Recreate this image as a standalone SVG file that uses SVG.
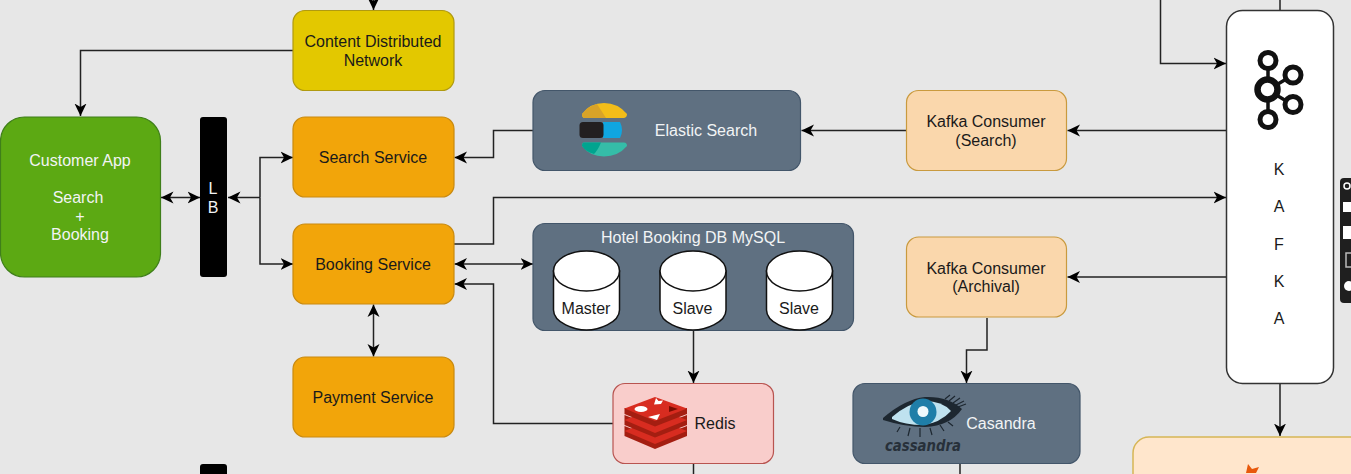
<svg xmlns="http://www.w3.org/2000/svg" width="1351" height="474" viewBox="0 0 1351 474">
<defs>
<marker id="a" viewBox="0 0 13 13" refX="12.500" refY="6.500" markerWidth="13" markerHeight="13" markerUnits="userSpaceOnUse" orient="auto-start-reverse"><path d="M0 0.500L12.500 6.500L0 12.500L3.500 6.500Z" fill="#000"/></marker>
</defs>
<style>
text{font-family:"Liberation Sans",Arial,sans-serif;font-size:16px;text-anchor:middle}
.d{fill:#1a1a1a}.w{fill:#f2f4f5}
.c{fill:none;stroke:#222;stroke-width:1.5}
.ar{marker-end:url(#a)}.ab{marker-start:url(#a);marker-end:url(#a)}
.o{fill:#f2a50a;stroke:#c98a10;stroke-width:1.2}
.s{fill:#5f7081;stroke:#43566a;stroke-width:1.2}
.p{fill:#fad7ac;stroke:#c99a3e;stroke-width:1.2}
.db{fill:#fff;stroke:#111;stroke-width:1.5}
.rs{fill:#a41e11}.rt{fill:#d82c20}
.ln{fill:none;stroke:#1d2730;stroke-width:1.2}
</style>
<rect width="1351" height="474" fill="#e7e7e7"/>
<g id="connectors">
<path class="c ar" d="M373.500 0V10"/>
<path class="c ar" d="M293 50.500H80.500V116"/>
<path class="c ab" d="M161 197.500H200"/>
<path class="c ar" d="M260 197.500H228"/>
<path class="c ar" d="M260 197.500V157.500H293"/>
<path class="c ar" d="M260 197.500V264H293"/>
<path class="c ar" d="M533 130.500H493.500V157.500H454.500"/>
<path class="c ar" d="M906 130.500H801.500"/>
<path class="c ar" d="M1226 130.500H1067.500"/>
<path class="c ar" d="M454 244H493.500V197.500H1226"/>
<path class="c ab" d="M454.500 264H533"/>
<path class="c ab" d="M373.500 304.500V356.500"/>
<path class="c ar" d="M693.500 331V383"/>
<path class="c ar" d="M613 423.500H493.500V284H454.500"/>
<path class="c ar" d="M1226 277H1067.500"/>
<path class="c ar" d="M987 318V350H966.500V383"/>
<path class="c ar" d="M1160.500 0V63.500H1226"/>
<path class="c" d="M1280 0V10"/>
<path class="c ar" d="M1280 384V436"/>
<path class="c" d="M693.500 464V474"/>
<path class="c" d="M960 464V474"/>
</g>
<g id="cdn"><rect x="293" y="10.500" width="161" height="80" rx="12" fill="#e3c800" stroke="#b09a10" stroke-width="1.200"/><text class="d" x="373" y="47">Content Distributed</text><text class="d" x="373" y="65.500">Network</text></g>
<g id="customer-app"><rect x="0.500" y="117" width="160" height="160" rx="24" fill="#5ca913" stroke="#3f7f1a" stroke-width="1.200"/><text class="w" x="80" y="166">Customer App</text><text class="w" x="78" y="203">Search</text><text class="w" x="80" y="222">+</text><text class="w" x="80" y="240">Booking</text></g>
<g id="lb"><rect x="200" y="117" width="27" height="160" rx="3" fill="#000"/><text class="w" x="213" y="194">L</text><text class="w" x="213" y="213">B</text></g>
<g id="search-service"><rect class="o" x="293" y="117" width="161" height="80" rx="12"/><text class="d" x="373" y="163">Search Service</text></g>
<g id="booking-service"><rect class="o" x="293" y="224" width="161" height="80" rx="12"/><text class="d" x="373" y="270">Booking Service</text></g>
<g id="payment-service"><rect class="o" x="293" y="357" width="161" height="80" rx="12"/><text class="d" x="373" y="403">Payment Service</text></g>
<g id="elastic-search"><rect class="s" x="533" y="90.500" width="267.500" height="80" rx="12"/>
<path d="M582 114Q590 103 604 103Q618 103 627 114Q627 117.500 624 118H584Q582 117.500 582 114Z" fill="#f3bd19"/>
<path d="M582 114Q588 106 597 104L606 118H584Q582 117.500 582 114Z" fill="#d9a328"/>
<path d="M603 122H620Q624 130 620 138H603Z" fill="#10a6e0"/>
<rect x="579.500" y="122" width="24" height="16" rx="3.500" fill="#231f20"/>
<path d="M582 146Q582 142.500 584 142.500H624Q627 142.500 627 146Q618 156.500 604 156.500Q590 156.500 582 146Z" fill="#35bda8"/>
<path d="M582 146Q582 142.500 584 142.500H601Q598 150 594 154Q586 152 582 146Z" fill="#00a48f"/>
<text class="w" x="706" y="136">Elastic Search</text></g>
<g id="hotel-db"><rect class="s" x="533" y="223.500" width="320.500" height="107" rx="12"/><text class="w" x="693" y="243">Hotel Booking DB MySQL</text>
<g id="master"><path class="db" d="M553.500 271V310C553.500 323 575 330 586.500 330C598 330 619.500 323 619.500 310V271Z"/><ellipse class="db" cx="586.500" cy="271" rx="33" ry="20"/><text class="d" x="586" y="314">Master</text></g>
<g id="slave-1"><path class="db" d="M660 271V310C660 323 681.500 330 693 330C704.500 330 726 323 726 310V271Z"/><ellipse class="db" cx="693" cy="271" rx="33" ry="20"/><text class="d" x="692.500" y="314">Slave</text></g>
<g id="slave-2"><path class="db" d="M766.500 271V310C766.500 323 788 330 799.500 330C811 330 832.500 323 832.500 310V271Z"/><ellipse class="db" cx="799.500" cy="271" rx="33" ry="20"/><text class="d" x="799" y="314">Slave</text></g></g>
<g id="redis"><rect x="613" y="383.500" width="160.500" height="80" rx="12" fill="#f9cdcb" stroke="#b85450" stroke-width="1.200"/>
<path class="rs" d="M624.500 426V436L655 449L687 436V426L655 438Z"/><path class="rt" d="M624.500 431L655 419L687 431L655 444Z"/>
<path class="rs" d="M624.500 415V425L655 437.500L687 425V415L655 427Z"/><path class="rt" d="M624.500 420L655 408L687 420L655 433Z"/>
<path class="rs" d="M624.500 408V414L655 426.500L687 414V408Z"/><path class="rt" d="M624.500 408.500L655 397L687 408.500L655 421Z"/>
<ellipse cx="641" cy="409" rx="6.500" ry="3" fill="#fff"/><path d="M656 398L658.500 401L663 400.500L661 404L654 404.500Z" fill="#fff"/><path d="M648 417L660 414L657 420Z" fill="#fff"/><path d="M669 406L678 409L669 412Z" fill="#7a0c00"/>
<text class="d" x="715" y="429">Redis</text></g>
<g id="casandra"><rect class="s" x="853" y="383.500" width="227" height="80" rx="12"/>
<path d="M883 418Q905 399 925 397Q948 396 962 409Q950 426 925 427Q905 427 883 420Z" fill="#1d2730"/>
<path d="M892 417Q908 403 925 401Q942 401 951 411Q940 423 923 425Q905 425 892 419Z" fill="#bfe2ef"/>
<circle cx="923" cy="412" r="13.500" fill="#1f7ea8"/><circle cx="923" cy="411.500" r="5.500" fill="#eef9fc"/>
<path class="ln" d="M945 399L950 395M949 401L955 396M953 403L960 398M956 405L964 401M958 407L966 404M900 427L897 432M910 428L908 436M920 428L920 437M930 428L932 435M940 425L944 431M948 422L953 426"/>
<text x="923" y="451" style="font-family:'DejaVu Sans',sans-serif;font-size:15px;font-style:italic;font-weight:bold" fill="#27303a" textLength="76" lengthAdjust="spacingAndGlyphs">cassandra</text>
<text class="w" x="1001" y="429">Casandra</text></g>
<g id="kafka-search"><rect class="p" x="906.500" y="90.500" width="160" height="80" rx="12"/><text class="d" x="986" y="127">Kafka Consumer</text><text class="d" x="986" y="146">(Search)</text></g>
<g id="kafka-archival"><rect class="p" x="906.500" y="237" width="160" height="80" rx="12"/><text class="d" x="986" y="274">Kafka Consumer</text><text class="d" x="986" y="292">(Archival)</text></g>
<g id="kafka"><rect x="1226.500" y="10.500" width="107" height="373" rx="16" fill="#fff" stroke="#333" stroke-width="1.500"/>
<g fill="none" stroke="#111"><path d="M1268 68V120M1268 90L1293 75M1268 90L1293 105" stroke-width="3.500"/><g fill="#fff"><g stroke-width="5"><circle cx="1268" cy="60.500" r="8"/><circle cx="1293" cy="75" r="8"/><circle cx="1293" cy="104.500" r="8"/><circle cx="1268" cy="119.500" r="8"/></g><circle cx="1267.500" cy="89.500" r="10" stroke-width="6.500"/></g></g>
<text class="d" x="1279" y="175">K</text><text class="d" x="1279" y="212">A</text><text class="d" x="1279" y="250">F</text><text class="d" x="1279" y="287">K</text><text class="d" x="1279" y="324">A</text></g>
<g id="lb-lower"><rect x="200" y="464" width="27" height="20" rx="3" fill="#000"/></g>
<g id="lower-box"><rect x="1133" y="437" width="260" height="60" rx="16" fill="#ffe6cc" stroke="#d6b656" stroke-width="1.500"/>
<path d="M1246 473L1248 464L1252 469L1259 467L1256 473Z" fill="#e8590c"/></g>
<g id="viewer-toolbar"><rect x="1340" y="178" width="20" height="125" rx="4" fill="#1f1f1f"/>
<rect x="1343" y="202" width="10" height="10" fill="#fff"/><rect x="1343" y="226" width="10" height="13" fill="#fff"/><rect x="1346" y="253" width="8" height="14" fill="none" stroke="#bbb" stroke-width="1.500"/><circle cx="1349" cy="286" r="5" fill="#fff"/><circle cx="1347" cy="186" r="3" fill="none" stroke="#fff" stroke-width="1.500"/></g>
</svg>
